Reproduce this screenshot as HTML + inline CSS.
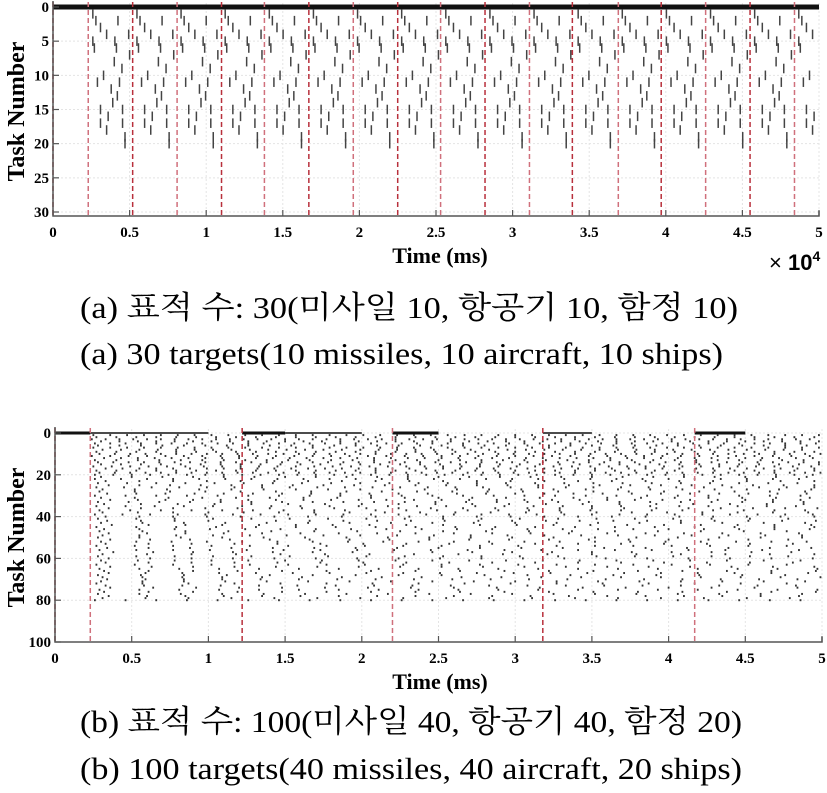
<!DOCTYPE html>
<html><head><meta charset="utf-8"><style>
html,body{margin:0;padding:0;background:#fff;}
svg{display:block;}
</style></head><body>
<svg id="fig" width="827" height="793" viewBox="0 0 827 793" xmlns="http://www.w3.org/2000/svg">
<g id="chartA"></g>
<g id="chartB"></g>
<text x="80" y="318" font-family="'Liberation Serif','Noto Serif CJK SC',serif" font-size="31" textLength="658" lengthAdjust="spacingAndGlyphs">(a) 표적 수: 30(미사일 10, 항공기 10, 함정 10)</text>
<text x="80" y="364" font-family="'Liberation Serif',serif" font-size="31" textLength="643" lengthAdjust="spacingAndGlyphs">(a) 30 targets(10 missiles, 10 aircraft, 10 ships)</text>
<text x="80" y="732" font-family="'Liberation Serif','Noto Serif CJK SC',serif" font-size="31" textLength="662" lengthAdjust="spacingAndGlyphs">(b) 표적 수: 100(미사일 40, 항공기 40, 함정 20)</text>
<text x="80" y="779" font-family="'Liberation Serif',serif" font-size="31" textLength="662" lengthAdjust="spacingAndGlyphs">(b) 100 targets(40 missiles, 40 aircraft, 20 ships)</text>
</svg>
<script>
// ---- Chart A data ----
const aXTicks = [0,0.5,1,1.5,2,2.5,3,3.5,4,4.5,5];
const aXTickLabels = ["0","0.5","1","1.5","2","2.5","3","3.5","4","4.5","5"];
const aYTicks = [0,5,10,15,20,25,30];
const aFrameLines = [0,0.23,0.52,0.81,1.1,1.38,1.67,1.96,2.25,2.53,2.82,3.11,3.39,3.69,3.97,4.26,4.55,4.84];
const aTaskRows = [1,2,3,4,5,6,7,8,9,10,11,12,13,14,15,16,17,18,19,20];
const aTaskPeriod = [0.288,0.144,0.288,0.144,0.144,0.144,0.288,0.288,0.288,0.288,0.144,0.288,0.288,0.288,0.144,0.288,0.144,0.288,0.288,0.288];
const aTaskOffset = [0.26,0.28,0.31,0.35,0.26,0.27,0.5,0.4,0.45,0.33,0.29,0.38,0.42,0.39,0.31,0.36,0.31,0.35,0.47,0.47];
// ---- Chart B data ----
const bXTicks = [0,0.5,1,1.5,2,2.5,3,3.5,4,4.5,5];
const bXTickLabels = ["0","0.5","1","1.5","2","2.5","3","3.5","4","4.5","5"];
const bYTicks = [0,20,40,60,80,100];
const bFrameLines = [0,0.23,1.22,2.2,3.18,4.17];
const bRowZeroSegments = [[0,0.23],[0.23,1.0],[1.22,1.5],[1.5,2.0],[2.2,2.5],[3.18,3.5],[4.17,4.5]];
const bTaskRows = [];
const bTaskPeriod = [0.11,0.13,0.09,0.12,0.1,0.14,0.11,0.12,0.13,0.1,0.12,0.11,0.14,0.1,0.13,0.12,0.11,0.13,0.1,0.12,
 0.2,0.17,0.22,0.19,0.2,0.18,0.21,0.23,0.19,0.2,0.22,0.18,0.2,0.24,0.19,0.21,0.2,0.23,0.18,0.22,
 0.25,0.22,0.27,0.24,0.26,0.23,0.28,0.25,0.24,0.27,0.26,0.23,0.28,0.25,0.27,0.24,0.26,0.29,0.25,0.27,
 0.24,0.28,0.25,0.27,0.26,0.29,0.24,0.28,0.26,0.25,0.27,0.3,0.25,0.28,0.26,0.29,0.27,0.25,0.28,0.2];
const bTaskOffset = [0.25,0.27,0.24,0.3,0.26,0.28,0.25,0.31,0.27,0.29,0.24,0.32,0.26,0.28,0.3,0.25,0.33,0.27,0.29,0.26,
 0.3,0.26,0.33,0.28,0.35,0.27,0.31,0.29,0.34,0.26,0.3,0.36,0.28,0.32,0.27,0.35,0.29,0.31,0.26,0.33,
 0.28,0.34,0.3,0.37,0.27,0.32,0.29,0.35,0.31,0.28,0.36,0.3,0.33,0.27,0.34,0.29,0.38,0.31,0.28,0.35,
 0.3,0.33,0.27,0.36,0.29,0.32,0.35,0.28,0.31,0.34,0.3,0.27,0.33,0.36,0.29,0.32,0.28,0.35,0.31,0.26];
for (let i=1;i<=80;i++) bTaskRows.push(i);

const NS="http://www.w3.org/2000/svg";
function mk(tag, attrs, parent){const e=document.createElementNS(NS,tag);for(const k in attrs)e.setAttribute(k,attrs[k]);parent.appendChild(e);return e;}

function drawChart(g, cfg){
  const xs = v => cfg.x0 + (v - 0)/(5-0)*(cfg.x1-cfg.x0);
  const ys = v => cfg.y0 + v/cfg.yMaxTick*(cfg.yTickEnd-cfg.y0);
  cfg.xTicks.forEach(t=>{const l=mk('line',{x1:xs(t),x2:xs(t),y1:cfg.y0-4,y2:cfg.yBottom,stroke:'#e4e4e4','stroke-width':1,'stroke-dasharray':'2,2'},g);
    });
  cfg.yTicks.forEach(t=>{const l=mk('line',{x1:cfg.x0,x2:cfg.x1,y1:ys(t),y2:ys(t),stroke:'#e4e4e4','stroke-width':1,'stroke-dasharray':'2,2'},g);
    });
  cfg.drawMarks(g, xs, ys);
  cfg.frames.forEach((f,i)=>{const l=mk('line',{x1:xs(f),x2:xs(f),y1:cfg.y0-5,y2:cfg.yBottom,stroke:(i%2?'#d0707c':'#b8303c'),'stroke-width':1.5,'stroke-dasharray':'5,3'},g);
    });
  const ax=mk('path',{d:`M${cfg.x0},${cfg.y0-6} V${cfg.yBottom} H${cfg.x1} V${cfg.yBottom-5}`,fill:'none',stroke:'#555','stroke-width':1.5},g);
  
  cfg.xTicks.forEach((t,i)=>{
    const tk=mk('line',{x1:xs(t),x2:xs(t),y1:cfg.yBottom,y2:cfg.yBottom-6,stroke:'#555','stroke-width':1.2},g);
    
    const tx=mk('text',{x:xs(t),y:cfg.yBottom+21,'text-anchor':'middle','font-family':'Liberation Serif,serif','font-weight':'bold','font-size':15},g);
    tx.textContent=cfg.xLabels[i];
    
  });
  cfg.yTicks.forEach(t=>{
    const tk=mk('line',{x1:cfg.x0,x2:cfg.x0+6,y1:ys(t),y2:ys(t),stroke:'#555','stroke-width':1.2},g);
    
    const tx=mk('text',{x:cfg.x0-4,y:ys(t)+5,'text-anchor':'end','font-family':'Liberation Serif,serif','font-weight':'bold','font-size':15},g);
    tx.textContent=String(t);
    
  });
  const yl=mk('text',{x:0,y:0,transform:`translate(${cfg.yLabelX},${(cfg.y0+cfg.yBottom)/2}) rotate(-90)`,'text-anchor':'middle','font-family':'Liberation Serif,serif','font-weight':'bold','font-size':24},g);
  yl.textContent='Task Number';
  
  const xl=mk('text',{x:440,y:cfg.yBottom+47,'text-anchor':'middle','font-family':'Liberation Serif,serif','font-weight':'bold','font-size':22},g);
  xl.textContent='Time (ms)';
  
}

drawChart(document.getElementById('chartA'),{
  x0:53,x1:819,y0:7,yTickEnd:212,yMaxTick:30,yBottom:216,yLabelX:24,
  xTicks:aXTicks,xLabels:aXTickLabels,yTicks:aYTicks,frames:aFrameLines,
  drawMarks:(g,xs,ys)=>{
    const r0=mk('line',{x1:xs(0),x2:xs(5),y1:ys(0),y2:ys(0),stroke:'#111','stroke-width':5},g);
    
    aTaskRows.forEach((row,i)=>{
      for(let t=aTaskOffset[i];t<4.98;t+=aTaskPeriod[i]){
        const m=mk('line',{x1:xs(t),x2:xs(t),y1:ys(row-0.7),y2:ys(row+0.7),stroke:'#444','stroke-width':1.5},g);
        
      }
    });
  }
});
drawChart(document.getElementById('chartB'),{
  x0:55,x1:822,y0:433,yTickEnd:642,yMaxTick:100,yBottom:642,yLabelX:24,
  xTicks:bXTicks,xLabels:bXTickLabels,yTicks:bYTicks,frames:bFrameLines,
  drawMarks:(g,xs,ys)=>{
    bRowZeroSegments.forEach((s,i)=>{
      const r0=mk('line',{x1:xs(s[0]),x2:xs(s[1]),y1:ys(0),y2:ys(0),stroke:'#111','stroke-width':(i%2===0?3:1.6)},g);
      
    });
    bTaskRows.forEach((row,i)=>{
      for(let t=bTaskOffset[i];t<4.99;t+=bTaskPeriod[i]){
        const m=mk('rect',{x:xs(t)-0.9,y:ys(row)-1,width:1.8,height:2,fill:'#333'},g);
        
      }
    });
  }
});
const ex=mk('text',{x:769,y:270,'font-family':'Liberation Sans,sans-serif','font-size':22},document.getElementById('chartA'));
ex.innerHTML='× <tspan font-weight="bold">10</tspan><tspan font-weight="bold" font-size="14" dy="-9">4</tspan>';


</script>
</body></html>
